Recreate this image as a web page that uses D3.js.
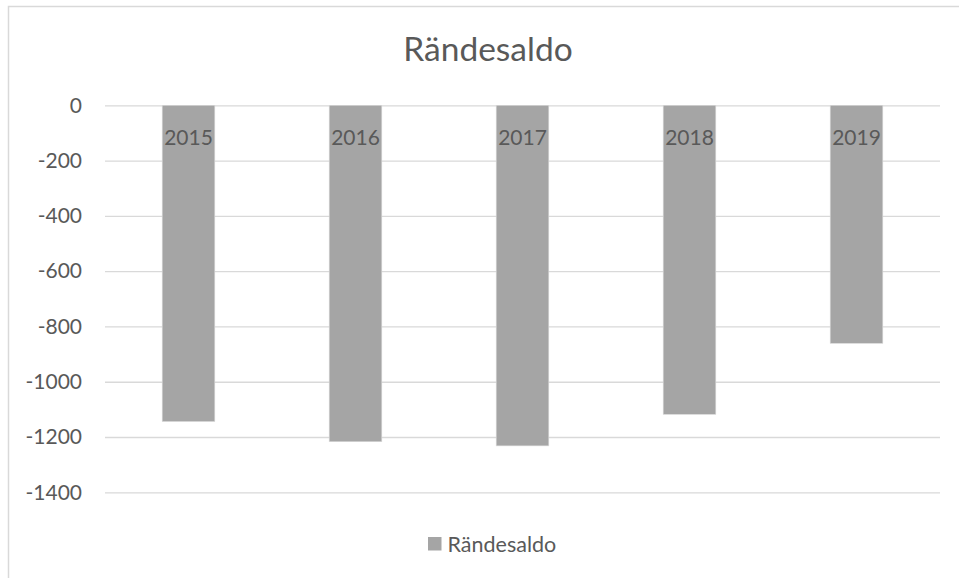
<!DOCTYPE html>
<html>
<head>
<meta charset="utf-8">
<script src="https://cdn.jsdelivr.net/npm/d3@7"></script>
<style>
  body { margin: 0; background: #fff; }
  text { font-family: Lato, "Open Sans", sans-serif; fill: #595959; }
</style>
</head>
<body>
<div id="chart"></div>
<script>
"use strict";

const years = ["2015", "2016", "2017", "2018", "2019"];
const values = [-1144, -1217, -1232, -1118, -861];
const yTicks = [0, -200, -400, -600, -800, -1000, -1200, -1400];
const title = "Rändesaldo";

const width = 959;
const height = 578;
const plotLeft = 105, plotRight = 940, plotTop = 105.3, plotBottom = 492.3;

const svg = d3.select("#chart")
  .append("svg")
  .attr("width", width)
  .attr("height", height)
;

// chart frame (right and bottom edges fall outside the picture)
svg.append("rect")
  .attr("x", 8.5)
  .attr("y", 6.5)
  .attr("width", 960)
  .attr("height", 600)
  .attr("fill", "none")
  .attr("stroke", "#d9d9d9")
  .attr("stroke-width", 1.5)
;

const xScale = d3.scaleBand()
  .domain(years)
  .range([plotLeft, plotRight])
  .paddingInner(0.685)
  .paddingOuter(0.3425)
;
const yScale = d3.scaleLinear()
  .domain([0, -1400])
  .range([plotTop, plotBottom])
;

const yAxis = d3.axisLeft(yScale)
  .tickValues(yTicks)
  .tickSize(-(plotRight - plotLeft))
  .tickPadding(23)
  .tickFormat(d => d)
;

const gy = svg.append("g")
  .attr("transform", `translate(${plotLeft}, 0)`)
  .call(yAxis)
;
gy.select(".domain").remove();
gy.selectAll(".tick line").attr("stroke", "#d9d9d9").attr("stroke-width", 1.3);
gy.selectAll(".tick text")
  .attr("font-size", 21)
  .style("font-family", "Lato, sans-serif")
  .attr("fill", "#595959")
;

svg.selectAll("rect.bar")
  .data(values)
  .enter()
  .append("rect")
  .attr("class", "bar")
  .attr("x", (d, i) => xScale(years[i]))
  .attr("y", yScale(0))
  .attr("width", xScale.bandwidth())
  .attr("height", d => yScale(d) - yScale(0))
  .attr("fill", "#a5a5a5")
  .attr("stroke", "#d9d9d9")
  .attr("stroke-width", 0.6)
;

// category labels sit at the zero line
svg.selectAll("text.cat")
  .data(years)
  .enter()
  .append("text")
  .attr("class", "cat")
  .attr("x", d => xScale(d) + xScale.bandwidth() / 2)
  .attr("y", yScale(0) + 40)
  .attr("text-anchor", "middle")
  .attr("font-size", 21)
  .text(d => d)
;

svg.append("text")
  .attr("x", 488)
  .attr("y", 61)
  .attr("text-anchor", "middle")
  .attr("font-size", 33.5)
  .text(title)
;

// legend
const legend = svg.append("g").attr("transform", "translate(428, 537)");
legend.append("rect")
  .attr("width", 13.5)
  .attr("height", 13.5)
  .attr("fill", "#a5a5a5")
;
legend.append("text")
  .attr("x", 19.5)
  .attr("y", 14.5)
  .attr("font-size", 21.5)
  .text(title)
;
</script>
</body>
</html>
